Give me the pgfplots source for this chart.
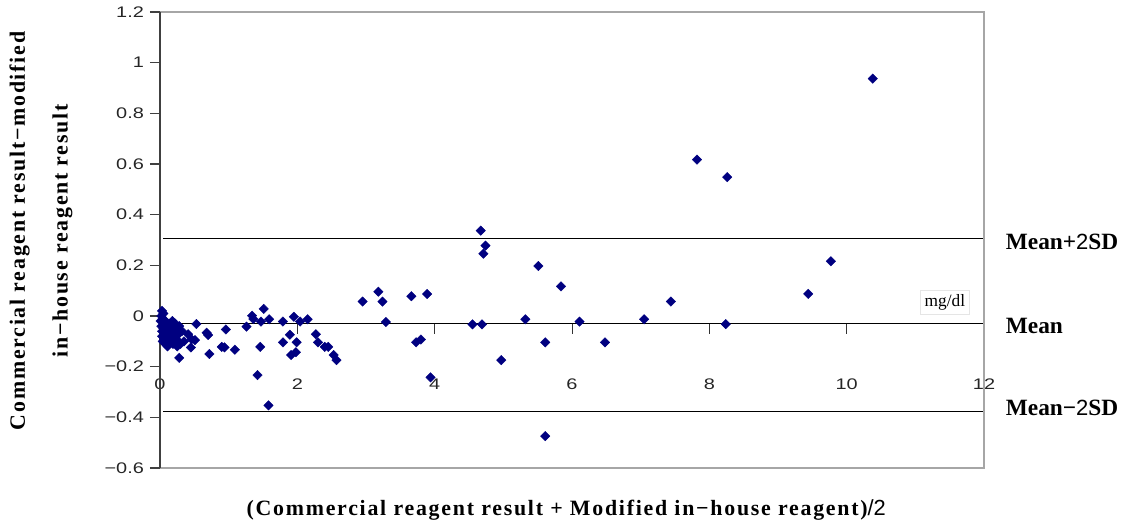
\documentclass[border=0pt]{standalone}
\usepackage{fontspec}
\setmainfont{Liberation Serif}
\newfontfamily\arial{Liberation Sans}
\newfontfamily\arialw[FakeStretch=1.3]{Liberation Sans}
\newfontfamily\spaced[LetterSpace=8]{Liberation Serif}
\usepackage{pgfplots}
\pgfplotsset{compat=1.18}
\definecolor{navy}{RGB}{0,0,128}
\pgfplotstableread{
x y
0.03 0.02
0.02 0.00
0.05 0.01
0.01 -0.02
0.04 -0.01
0.06 -0.03
0.02 -0.04
0.08 -0.02
0.03 -0.06
0.05 -0.05
0.07 -0.06
0.10 -0.04
0.12 -0.05
0.15 -0.03
0.18 -0.02
0.20 -0.04
0.22 -0.03
0.25 -0.05
0.28 -0.04
0.14 -0.07
0.17 -0.06
0.21 -0.07
0.24 -0.08
0.09 -0.08
0.06 -0.09
0.04 -0.10
0.08 -0.11
0.12 -0.10
0.16 -0.09
0.19 -0.11
0.22 -0.10
0.27 -0.10
0.30 -0.11
0.11 -0.12
0.03 -0.08
0.13 -0.03
0.27 -0.07
0.32 -0.06
0.35 -0.10
0.25 -0.12
0.28 -0.165
0.41 -0.072
0.46 -0.092
0.51 -0.095
0.45 -0.124
0.53 -0.032
0.68 -0.066
0.70 -0.075
0.72 -0.150
0.96 -0.053
0.90 -0.122
0.94 -0.124
1.09 -0.133
1.26 -0.042
1.34 0.001
1.36 -0.012
1.51 0.028
1.47 -0.022
1.59 -0.013
1.46 -0.122
1.42 -0.233
1.58 -0.353
1.79 -0.022
1.95 -0.003
2.04 -0.022
2.15 -0.013
1.79 -0.104
1.89 -0.074
1.99 -0.104
1.91 -0.154
1.98 -0.143
2.27 -0.072
2.30 -0.104
2.40 -0.122
2.45 -0.122
2.53 -0.154
2.57 -0.174
2.95 0.057
3.18 0.096
3.24 0.057
3.29 -0.024
3.66 0.078
3.89 0.087
3.73 -0.104
3.80 -0.093
3.94 -0.242
4.55 -0.033
4.69 -0.033
4.67 0.337
4.74 0.278
4.71 0.246
5.51 0.197
5.84 0.117
5.32 -0.013
5.61 -0.104
4.97 -0.174
6.11 -0.022
6.48 -0.104
7.05 -0.013
5.61 -0.474
7.82 0.617
8.26 0.548
7.44 0.057
9.44 0.087
9.77 0.216
8.24 -0.032
10.38 0.937
}\pts
\begin{document}
\begin{tikzpicture}
\useasboundingbox (-120pt,-42pt) rectangle (726.75pt,351pt);
\begin{axis}[
  at={(0,0)}, anchor=south west,
  scale only axis, width=618pt, height=342pt,
  xmin=0, xmax=12, ymin=-0.6, ymax=1.2,
  clip=false,
  axis line style={draw=none},
  ytick={-0.6,-0.4,-0.2,0,0.2,0.4,0.6,0.8,1,1.2},
  yticklabels={−0.6,−0.4,−0.2,0,0.2,0.4,0.6,0.8,1,1.2},
  ytick pos=left,
  ytick style={black!75, line width=0.8pt},
  tick align=outside,
  major tick length=7.5pt,
  yticklabel style={font=\arialw\fontsize{11.5}{13}\selectfont, text=black!85, xshift=-1pt},
  xtick={0,2,4,6,8,10,12},
  xticklabels={0,2,4,6,8,10,12},
  xtick style={draw=none},
  xticklabel style={font=\arialw\fontsize{11.5}{13}\selectfont, text=black!85, anchor=center, yshift=70.5pt},
  ylabel={Commercial reagent result−modified\\in−house reagent result},
  ylabel style={font=\spaced\bfseries\fontsize{16.4}{32}\selectfont, align=center,
    at={(axis description cs:-0.1444,0.52)}, anchor=center},
  xlabel={(Commercial reagent result + Modified in−house reagent){\arial\mdseries /2}},
  xlabel style={font=\spaced\bfseries\fontsize{16.4}{18}\selectfont,
    at={(axis description cs:0.493,0)}, anchor=center, yshift=-31.5pt},
]
\addplot[black, line width=0.7pt, no marks] coordinates {(0.05,0.305) (12,0.305)};
\addplot[black, line width=0.7pt, no marks] coordinates {(0,-0.03) (12,-0.03)};
\addplot[black, line width=0.7pt, no marks] coordinates {(0.05,-0.375) (12,-0.375)};
\pgfplotsinvokeforeach{2,4,6,8,10,12}{
  \draw[black!80, line width=0.7pt] (axis cs:#1,-0.03) -- ([yshift=-7.5pt]axis cs:#1,-0.03);
}
\draw[gray!70, line width=1pt] (rel axis cs:0,1) -- (rel axis cs:1,1) -- (rel axis cs:1,0) -- (rel axis cs:0,0);
\draw[black!75, line width=1.3pt] (rel axis cs:0,0) -- (rel axis cs:0,1);
\addplot[only marks, mark=square*, mark size=2.5pt, color=navy,
  mark options={rotate=45, fill=navy, draw=navy, line width=0.3pt}] table[x=x, y=y] {\pts};
\node[font=\bfseries\fontsize{17.5}{20}\selectfont, anchor=west] at (axis cs:12.25,0.292) {Mean+{\arial\mdseries\fontsize{16.5}{20}\selectfont 2}SD};
\node[font=\bfseries\fontsize{17.5}{20}\selectfont, anchor=west] at (axis cs:12.25,-0.04) {Mean};
\node[font=\bfseries\fontsize{17.5}{20}\selectfont, anchor=west] at (axis cs:12.25,-0.363) {Mean−{\arial\mdseries\fontsize{16.5}{20}\selectfont 2}SD};
\node[font=\fontsize{13}{15}\selectfont, draw=gray!20, inner sep=3pt] at (axis cs:11.43,0.055) {mg/dl};
\end{axis}
\end{tikzpicture}
\end{document}
